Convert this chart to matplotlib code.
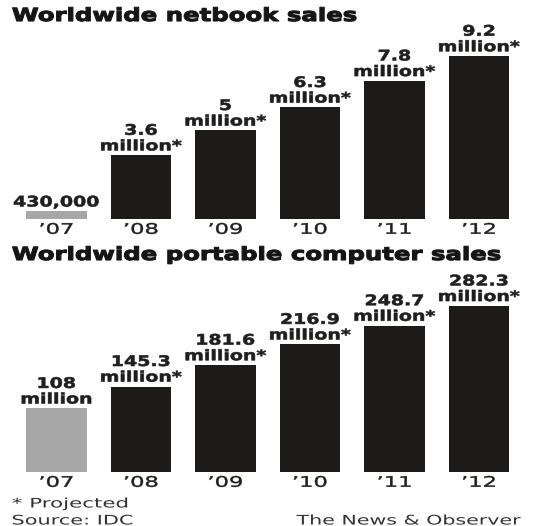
import matplotlib
matplotlib.use("Agg")
import matplotlib.pyplot as plt
from matplotlib.patheffects import AbstractPathEffect
from matplotlib.transforms import Affine2D

# Data
years = ["\u201907", "\u201908", "\u201909", "\u201910", "\u201911", "\u201912"]
netbook_sales = [0.43, 3.6, 5.0, 6.3, 7.8, 9.2]  # millions
netbook_labels = ["430,000", "3.6\nmillion*", "5\nmillion*", "6.3\nmillion*",
                  "7.8\nmillion*", "9.2\nmillion*"]
portable_sales = [108, 145.3, 181.6, 216.9, 248.7, 282.3]  # millions
portable_labels = ["108\nmillion", "145.3\nmillion*", "181.6\nmillion*",
                   "216.9\nmillion*", "248.7\nmillion*", "282.3\nmillion*"]

W, H = 539, 526
DARK = "#1d1a1a"
GREY = "#a7a7a7"
INK = "#1e1e1e"


class StretchX(AbstractPathEffect):
    """Widen glyphs horizontally (the original uses an extended typeface)"""

    def __init__(self, sx, anchor="left", stroke=0.0):
        super().__init__()
        self.sx = sx
        self.anchor = anchor
        self.stroke = stroke

    def draw_path(self, renderer, gc, tpath, affine, rgbFace=None):
        ext = tpath.get_extents()
        if self.anchor == "center":
            cx = (ext.x0 + ext.x1) / 2
        elif self.anchor == "right":
            cx = ext.x1
        else:
            cx = ext.x0
        t = Affine2D().translate(-cx, 0).scale(self.sx, 1).translate(cx, 0) + affine
        gc0 = renderer.new_gc()
        gc0.copy_properties(gc)
        if self.stroke > 0:
            gc0.set_linewidth(self.stroke)
            gc0.set_foreground(rgbFace)
            gc0.set_joinstyle("round")
        renderer.draw_path(gc0, tpath, t, rgbFace)
        gc0.restore()


fig = plt.figure(figsize=(W / 100, H / 100), dpi=100)
fig.patch.set_facecolor("white")


def px_axes(left, top, right, bottom):
    """Axes placed by pixel edges (from top-left)"""
    return fig.add_axes([left / W, 1 - bottom / H, (right - left) / W, (bottom - top) / H])


def draw_panel(ax, values, labels, ymax):
    colors = [GREY] + [DARK] * (len(values) - 1)
    x = range(len(values))
    ax.bar(x, values, width=0.72, color=colors)
    ax.set_xlim(-0.5, len(values) - 0.5)
    ax.set_ylim(0, ymax)
    pad = ymax * 0.01
    for xi, v, lab in zip(x, values, labels):
        ax.text(xi, v + pad, lab, ha="center", va="bottom", fontsize=10.5,
                fontweight="bold", color=INK, linespacing=1.05, clip_on=False,
                path_effects=[StretchX(1.3, "center", 0.4)])
    ax.set_xticks(list(x))
    ax.set_xticklabels(years, fontsize=10.5, color=INK,
                       path_effects=[StretchX(1.55, "center", 0.3)])
    ax.tick_params(axis="x", length=0, pad=2)
    ax.set_yticks([])
    for s in ax.spines.values():
        s.set_visible(False)


# Top panel: netbooks
ax1 = px_axes(14.25, 30, 521.25, 219)
draw_panel(ax1, netbook_sales, netbook_labels, 189 / 17.7)

# Bottom panel: portable computers
ax2 = px_axes(14.25, 275, 521.25, 472)
draw_panel(ax2, portable_sales, portable_labels, 197 / 0.588)

title_fx = [StretchX(1.35, "left", 0.8)]
fig.text(12 / W, 1 - 16 / H, "Worldwide netbook sales", fontsize=13,
         fontweight="bold", ha="left", va="center", color="#151515",
         path_effects=title_fx)
fig.text(12 / W, 1 - 255 / H, "Worldwide portable computer sales", fontsize=13,
         fontweight="bold", ha="left", va="center", color="#151515",
         path_effects=title_fx)

foot = dict(fontsize=9.5, va="center", color="#333333")
fig.text(12 / W, 1 - 504 / H, "* Projected", ha="left",
         path_effects=[StretchX(1.62, "left")], **foot)
fig.text(12 / W, 1 - 521 / H, "Source: IDC", ha="left",
         path_effects=[StretchX(1.58, "left")], **foot)
fig.text(522 / W, 1 - 521 / H, "The News & Observer", ha="right",
         path_effects=[StretchX(1.56, "right")], **foot)

plt.savefig("out.png", dpi=100, facecolor="white")
